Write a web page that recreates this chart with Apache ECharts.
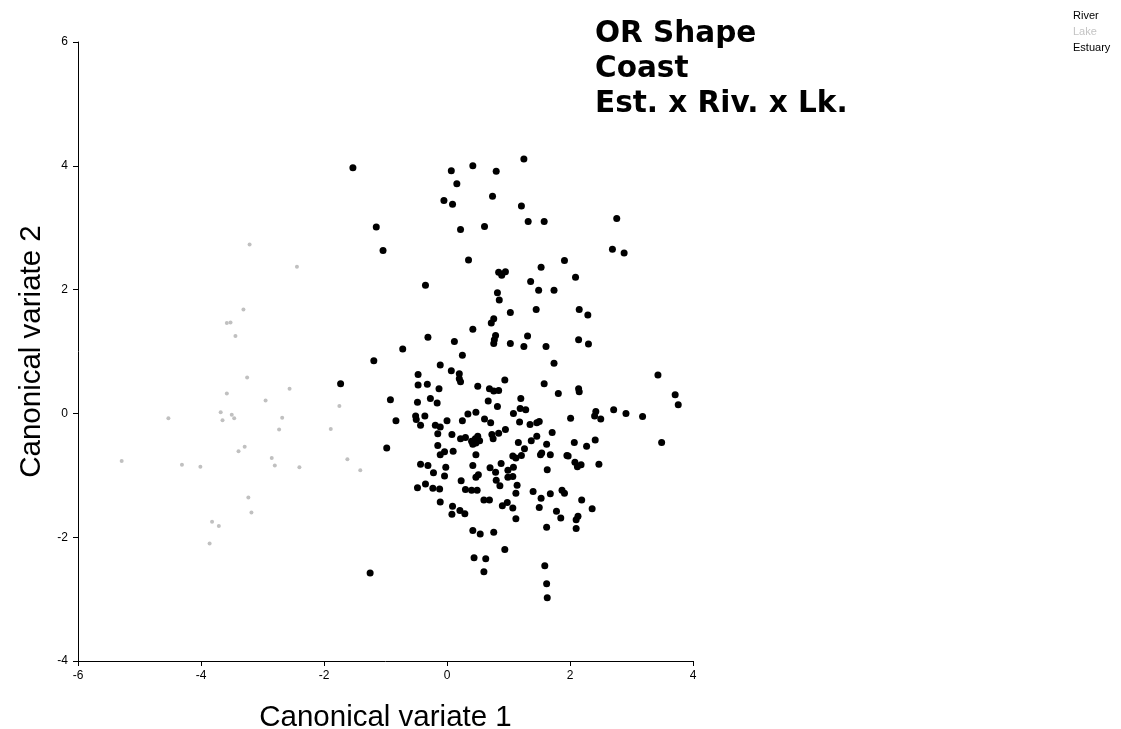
<!DOCTYPE html>
<html>
<head>
<meta charset="utf-8">
<script src="https://cdn.jsdelivr.net/npm/echarts@6/dist/echarts.min.js"></script>
<style>html,body{margin:0;padding:0;background:#fff}#c{width:1121px;height:729px}</style>
</head>
<body>
<div id="c"></div>
<script>
const titleLines = ['OR Shape', 'Coast', 'Est. x Riv. x Lk.'];
const seriesNames = ['River', 'Lake', 'Estuary'];
const xTicks = { min: -6, max: 4, interval: 2 };
const yTicks = { min: -4, max: 6, interval: 2 };
const xName = 'Canonical variate 1';
const yName = 'Canonical variate 2';

const riverPts = [
[-1.53,3.97],[0.07,3.92],[0.42,4.00],[0.80,3.91],[1.25,4.11],[0.16,3.71],[-0.05,3.44],[0.09,3.38],[0.74,3.51],[1.21,3.35],
[1.32,3.10],[1.58,3.10],[2.76,3.15],[-1.15,3.01],[0.22,2.97],[0.61,3.02],[-1.04,2.63],[2.69,2.65],[2.88,2.59],[0.35,2.48],
[1.91,2.47],[0.84,2.28],[0.95,2.29],[0.89,2.23],[1.53,2.36],[2.09,2.20],[-0.35,2.07],[1.36,2.13],[1.49,1.99],[1.74,1.99],
[0.82,1.95],[0.85,1.83],[1.45,1.68],[2.15,1.68],[2.29,1.59],[1.03,1.63],[0.76,1.53],[0.72,1.46],[0.42,1.36],[-0.31,1.23],
[0.12,1.16],[0.79,1.26],[0.77,1.19],[0.76,1.13],[1.03,1.13],[1.31,1.25],[1.25,1.08],[1.61,1.08],[2.14,1.19],[2.30,1.12],
[-0.72,1.04]
];

const lakePts = [
[-3.21,2.73],[-2.44,2.37],[-3.31,1.68],[-3.58,1.46],[-3.52,1.47],[-3.44,1.25],[-3.25,0.58],[-3.58,0.32],[-2.95,0.21],[-2.56,0.40],
[-4.53,-0.08],[-3.68,0.02],[-3.65,-0.11],[-3.50,-0.02],[-3.46,-0.08],[-2.68,-0.07],[-2.73,-0.26],[-1.89,-0.25],[-1.75,0.12],[-3.29,-0.54],
[-3.39,-0.61],[-2.85,-0.72],[-2.80,-0.84],[-2.40,-0.87],[-5.29,-0.77],[-4.31,-0.83],[-4.01,-0.86],[-1.62,-0.74],[-1.41,-0.92],[-3.23,-1.36],
[-3.18,-1.60],[-3.82,-1.75],[-3.71,-1.82],[-3.86,-2.10]
];

const estuaryPts = [
[-1.19,0.85],[0.25,0.94],[-0.11,0.78],[1.74,0.81],[0.07,0.69],[0.20,0.64],[0.20,0.56],[0.22,0.51],[-0.47,0.63],[-0.47,0.46],
[-0.32,0.47],[-0.13,0.40],[0.50,0.44],[0.69,0.40],[0.76,0.36],[0.84,0.37],[0.94,0.54],[1.58,0.48],[1.81,0.32],[2.14,0.40],
[2.15,0.35],[3.43,0.62],[3.71,0.30],[3.76,0.14],[-1.73,0.48],[-0.92,0.22],[-0.48,0.18],[-0.27,0.24],[-0.16,0.17],[0.67,0.20],
[0.82,0.11],[1.20,0.24],[-0.83,-0.12],[-0.51,-0.04],[-0.50,-0.10],[-0.36,-0.04],[-0.43,-0.19],[-0.19,-0.19],[-0.11,-0.22],[0.00,-0.12],
[-0.15,-0.33],[0.25,-0.12],[0.34,-0.01],[0.47,0.02],[0.61,-0.09],[0.71,-0.15],[1.08,0.00],[1.19,0.08],[1.28,0.06],[1.18,-0.14],
[0.95,-0.26],[0.84,-0.32],[0.73,-0.34],[1.35,-0.18],[1.46,-0.15],[1.50,-0.13],[1.46,-0.37],[1.37,-0.44],[1.71,-0.31],[2.01,-0.08],
[2.42,0.03],[2.40,-0.04],[2.50,-0.09],[2.71,0.06],[2.91,0.00],[3.18,-0.05],[3.49,-0.47],[2.07,-0.47],[2.27,-0.53],[2.41,-0.43],
[-0.98,-0.56],[-0.15,-0.52],[-0.11,-0.67],[-0.04,-0.62],[0.10,-0.61],[0.22,-0.41],[0.30,-0.39],[0.40,-0.45],[0.46,-0.41],[0.53,-0.44],
[0.50,-0.37],[0.47,-0.48],[0.42,-0.50],[0.08,-0.34],[0.75,-0.41],[1.16,-0.47],[1.26,-0.57],[1.62,-0.50],[1.07,-0.69],[1.12,-0.72],
[1.21,-0.68],[0.47,-0.67],[1.52,-0.67],[1.54,-0.64],[1.68,-0.67],[1.95,-0.68],[1.97,-0.69],[1.63,-0.91],[2.08,-0.79],[2.12,-0.86],
[2.18,-0.83],[2.47,-0.82],[-0.43,-0.82],[-0.31,-0.84],[-0.02,-0.87],[-0.22,-0.96],[-0.04,-1.01],[0.42,-0.84],[0.70,-0.88],[0.79,-0.95],
[0.88,-0.81],[0.99,-0.92],[1.08,-0.87],[0.47,-1.03],[0.51,-0.99],[0.80,-1.08],[0.86,-1.17],[0.99,-1.03],[1.07,-1.02],[0.23,-1.09],
[-0.48,-1.20],[-0.35,-1.14],[-0.23,-1.21],[-0.12,-1.22],[0.30,-1.23],[0.40,-1.24],[0.49,-1.24],[1.14,-1.16],[1.12,-1.29],[1.40,-1.26],
[1.53,-1.37],[1.68,-1.30],[1.87,-1.24],[1.91,-1.29],[2.19,-1.40],[2.36,-1.54],[-0.11,-1.43],[0.60,-1.40],[0.69,-1.40],[0.90,-1.49],
[0.98,-1.44],[1.07,-1.53],[1.50,-1.52],[0.09,-1.50],[0.08,-1.63],[0.21,-1.57],[0.29,-1.62],[1.12,-1.70],[1.78,-1.58],[1.85,-1.69],
[2.10,-1.72],[2.13,-1.66],[2.10,-1.86],[1.62,-1.84],[0.42,-1.89],[0.54,-1.95],[0.76,-1.92],[0.94,-2.20],[0.44,-2.33],[0.63,-2.35],
[0.60,-2.56],[-1.25,-2.58],[1.59,-2.46],[1.62,-2.75],[1.63,-2.98]
];

const chart = echarts.init(document.getElementById('c'), null, { renderer: 'canvas' });
const axisCommon = {
  type: 'value',
  splitLine: { show: false },
  axisLine: { show: true, onZero: false, lineStyle: { color: '#000', width: 1 } },
  axisTick: { show: true, inside: false, length: 5, lineStyle: { color: '#000' } },
  nameLocation: 'middle',
  nameTextStyle: { fontFamily: 'Liberation Sans, Arial', fontSize: 29.5, color: '#000' }
};
chart.setOption({
  animation: false,
  backgroundColor: '#fff',
  title: {
    text: titleLines.join('\n'),
    left: 590, top: 12,
    textStyle: { fontFamily: 'DejaVu Sans', fontWeight: 'bold', fontSize: 29.5, lineHeight: 35, color: '#000' }
  },
  legend: {
    orient: 'vertical', left: 1063, top: 5,
    itemWidth: 0, itemHeight: 10, itemGap: 5,
    itemStyle: { opacity: 0 },
    textStyle: { fontFamily: 'Liberation Sans, Arial', fontSize: 11, color: '#000' },
    data: [
      { name: seriesNames[0], textStyle: { color: '#000' } },
      { name: seriesNames[1], textStyle: { color: '#c4c4c4' } },
      { name: seriesNames[2], textStyle: { color: '#000' } }
    ]
  },
  grid: { left: 78, right: 428, top: 42, bottom: 68, containLabel: false, outerBoundsMode: 'none' },
  xAxis: Object.assign({}, axisCommon, {
    min: xTicks.min, max: xTicks.max, interval: xTicks.interval,
    name: xName, nameGap: 42,
    axisLabel: { margin: 9, fontFamily: 'Liberation Sans, Arial', fontSize: 12, color: '#000' }
  }),
  yAxis: Object.assign({}, axisCommon, {
    min: yTicks.min, max: yTicks.max, interval: yTicks.interval,
    name: yName, nameGap: 29,
    axisLabel: { margin: 10, fontFamily: 'Liberation Sans, Arial', fontSize: 12, color: '#000' }
  }),
  series: [
    { name: seriesNames[0], type: 'scatter', data: riverPts, symbol: 'circle', symbolSize: 7,
      itemStyle: { color: '#000', opacity: 1 }, z: 3 },
    { name: seriesNames[1], type: 'scatter', data: lakePts, symbol: 'circle', symbolSize: 4,
      itemStyle: { color: '#c0c0c0', opacity: 1 }, z: 2 },
    { name: seriesNames[2], type: 'scatter', data: estuaryPts, symbol: 'circle', symbolSize: 7,
      itemStyle: { color: '#000', opacity: 1 }, z: 3 }
  ]
});
</script>
</body>
</html>
